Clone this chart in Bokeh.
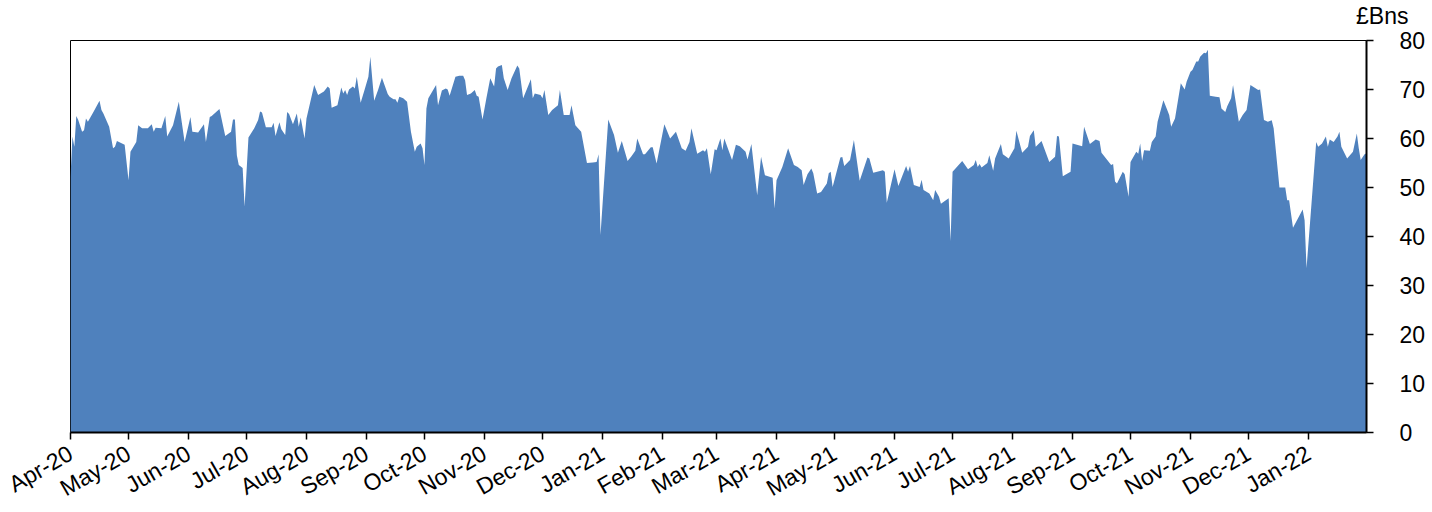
import math
import pandas as pd
from bokeh.plotting import figure
from bokeh.models import Range1d, FixedTicker, DatetimeTickFormatter, Title, ColumnDataSource
from bokeh.embed import file_html
from bokeh.resources import INLINE

# ---------------- data ----------------
dates_2020 = [
    "2020-04-01", "2020-04-02", "2020-04-03", "2020-04-04", "2020-04-05", "2020-04-07", "2020-04-08",
    "2020-04-09", "2020-04-10", "2020-04-13", "2020-04-16", "2020-04-17", "2020-04-18", "2020-04-21",
    "2020-04-23", "2020-04-24", "2020-04-25", "2020-04-29", "2020-05-01", "2020-05-02", "2020-05-05",
    "2020-05-06", "2020-05-08", "2020-05-11", "2020-05-13", "2020-05-14", "2020-05-15", "2020-05-18",
    "2020-05-20", "2020-05-21", "2020-05-24", "2020-05-27", "2020-05-30", "2020-06-02", "2020-06-03",
    "2020-06-06", "2020-06-09", "2020-06-10", "2020-06-12", "2020-06-13", "2020-06-17", "2020-06-20",
    "2020-06-23", "2020-06-24", "2020-06-25", "2020-06-26", "2020-06-27", "2020-06-29", "2020-06-30",
    "2020-07-02", "2020-07-05", "2020-07-07", "2020-07-08", "2020-07-09", "2020-07-11", "2020-07-14",
    "2020-07-15", "2020-07-16", "2020-07-18", "2020-07-19", "2020-07-21", "2020-07-22", "2020-07-23",
    "2020-07-25", "2020-07-27", "2020-07-28", "2020-07-29", "2020-07-31", "2020-08-01", "2020-08-05",
    "2020-08-07", "2020-08-10", "2020-08-12", "2020-08-13", "2020-08-14", "2020-08-17", "2020-08-19",
    "2020-08-20", "2020-08-21", "2020-08-22", "2020-08-23", "2020-08-25", "2020-08-26", "2020-08-27",
    "2020-08-29", "2020-08-31", "2020-09-02", "2020-09-03", "2020-09-05", "2020-09-07", "2020-09-09",
    "2020-09-12", "2020-09-13", "2020-09-15", "2020-09-16", "2020-09-17", "2020-09-18", "2020-09-20",
    "2020-09-22", "2020-09-24", "2020-09-26", "2020-09-27", "2020-09-29", "2020-09-30", "2020-10-01",
    "2020-10-02", "2020-10-03", "2020-10-07", "2020-10-08", "2020-10-10", "2020-10-12", "2020-10-13",
    "2020-10-14", "2020-10-17", "2020-10-19", "2020-10-21", "2020-10-22", "2020-10-23", "2020-10-25",
    "2020-10-27", "2020-10-28", "2020-10-29", "2020-10-31", "2020-11-02", "2020-11-04", "2020-11-06",
    "2020-11-07", "2020-11-08", "2020-11-10", "2020-11-11", "2020-11-13", "2020-11-15", "2020-11-18",
    "2020-11-19", "2020-11-21", "2020-11-25", "2020-11-26", "2020-11-27", "2020-11-30", "2020-12-01",
    "2020-12-02", "2020-12-04", "2020-12-06", "2020-12-09", "2020-12-10", "2020-12-12", "2020-12-15",
    "2020-12-16", "2020-12-18", "2020-12-21", "2020-12-24", "2020-12-27", "2020-12-29", "2020-12-30",
    "2020-12-31",
]
values_2020 = [
    52.2, 60.4, 58.3, 64.6, 63.8, 61.4, 61.7,
    64.1, 63.4, 65.5, 67.7, 65.8, 65.1, 62.4,
    58.0, 58.3, 59.5, 58.7, 51.5, 57.3, 59.3,
    62.7, 62.1, 62.1, 62.9, 61.4, 62.2, 62.1,
    64.6, 60.4, 62.7, 67.5, 59.3, 64.4, 61.4,
    61.2, 62.9, 59.3, 64.4, 64.6, 66.0, 60.5,
    61.4, 63.9, 63.9, 56.6, 54.6, 54.0, 46.1,
    60.2, 62.1, 63.8, 65.5, 65.3, 62.3, 62.3,
    63.2, 60.5, 63.3, 61.9, 60.7, 65.4, 65.0,
    62.9, 65.1, 62.4, 64.3, 60.0, 64.1, 70.9,
    68.9, 69.6, 70.6, 70.2, 66.3, 66.8, 70.4,
    69.2, 69.9, 68.9, 70.0, 70.6, 70.2, 72.6,
    67.3, 69.9, 72.6, 76.7, 67.7, 69.9, 72.4,
    69.1, 68.5, 68.0, 68.0, 67.3, 68.5, 68.2,
    67.5, 61.4, 57.3, 58.3, 59.0, 58.0, 54.6,
    66.1, 68.2, 70.9, 66.8, 69.8, 70.2, 70.0,
    68.7, 72.6, 72.8, 72.8, 71.9, 68.9, 69.2,
    69.9, 68.7, 68.5, 63.9, 68.2, 72.3, 70.6,
    74.3, 74.7, 75.0, 72.3, 69.9, 72.3, 74.9,
    74.3, 68.2, 72.1, 68.2, 69.2, 68.9, 68.2,
    69.9, 64.8, 65.8, 66.8, 69.9, 64.8, 64.8,
    66.8, 62.7, 61.4, 55.0, 55.1, 55.2, 56.8,
    40.3,
]

dates_2021 = [
    "2021-01-04", "2021-01-07", "2021-01-09", "2021-01-11", "2021-01-14", "2021-01-16", "2021-01-18",
    "2021-01-19", "2021-01-22", "2021-01-23", "2021-01-26", "2021-01-27", "2021-01-29", "2021-02-02",
    "2021-02-05", "2021-02-08", "2021-02-11", "2021-02-13", "2021-02-15", "2021-02-16", "2021-02-19",
    "2021-02-22", "2021-02-23", "2021-02-24", "2021-02-26", "2021-02-28", "2021-03-01", "2021-03-03",
    "2021-03-04", "2021-03-05", "2021-03-09", "2021-03-11", "2021-03-13", "2021-03-16", "2021-03-17",
    "2021-03-19", "2021-03-22", "2021-03-24", "2021-03-26", "2021-03-30", "2021-03-31", "2021-04-01",
    "2021-04-04", "2021-04-07", "2021-04-10", "2021-04-12", "2021-04-14", "2021-04-15", "2021-04-17",
    "2021-04-19", "2021-04-20", "2021-04-22", "2021-04-24", "2021-04-27", "2021-04-28", "2021-04-29",
    "2021-04-30", "2021-05-04", "2021-05-05", "2021-05-06", "2021-05-09", "2021-05-11", "2021-05-14",
    "2021-05-18", "2021-05-19", "2021-05-21", "2021-05-23", "2021-05-26", "2021-05-27", "2021-05-28",
    "2021-05-30", "2021-06-01", "2021-06-03", "2021-06-07", "2021-06-08", "2021-06-09", "2021-06-11",
    "2021-06-14", "2021-06-15", "2021-06-16", "2021-06-19", "2021-06-21", "2021-06-22", "2021-06-24",
    "2021-06-25", "2021-06-29", "2021-06-30", "2021-07-01", "2021-07-06", "2021-07-09", "2021-07-12",
    "2021-07-13", "2021-07-14", "2021-07-15", "2021-07-16", "2021-07-19", "2021-07-20", "2021-07-22",
    "2021-07-23", "2021-07-26", "2021-07-27", "2021-07-30", "2021-08-02", "2021-08-03", "2021-08-06",
    "2021-08-09", "2021-08-10", "2021-08-12", "2021-08-13", "2021-08-16", "2021-08-20", "2021-08-23",
    "2021-08-24", "2021-08-25", "2021-08-27", "2021-08-31", "2021-09-01", "2021-09-06", "2021-09-07",
    "2021-09-10", "2021-09-13", "2021-09-15", "2021-09-16", "2021-09-21", "2021-09-22", "2021-09-23",
    "2021-09-24", "2021-09-27", "2021-09-28", "2021-09-30", "2021-10-01", "2021-10-04", "2021-10-05",
    "2021-10-06", "2021-10-07", "2021-10-08", "2021-10-11", "2021-10-12", "2021-10-14", "2021-10-15",
    "2021-10-18", "2021-10-20", "2021-10-21", "2021-10-22", "2021-10-24", "2021-10-25", "2021-10-27",
    "2021-10-29", "2021-10-30", "2021-11-01", "2021-11-02", "2021-11-04", "2021-11-05", "2021-11-06",
    "2021-11-08", "2021-11-09", "2021-11-10", "2021-11-11", "2021-11-14", "2021-11-16", "2021-11-17",
    "2021-11-19", "2021-11-20", "2021-11-22", "2021-11-23", "2021-11-26", "2021-11-28", "2021-11-30",
    "2021-12-02", "2021-12-04", "2021-12-06", "2021-12-07", "2021-12-09", "2021-12-11", "2021-12-13",
    "2021-12-14", "2021-12-17", "2021-12-20", "2021-12-21", "2021-12-22", "2021-12-24", "2021-12-29",
    "2021-12-30", "2021-12-31",
]
values_2021 = [
    63.9, 60.7, 57.1, 59.5, 55.4, 56.4, 57.5,
    60.0, 56.8, 56.8, 58.2, 58.2, 54.9, 62.9,
    60.0, 61.4, 58.0, 57.5, 59.3, 62.1, 56.9,
    57.6, 57.3, 58.0, 52.7, 57.8, 57.6, 60.0,
    57.6, 60.0, 55.6, 58.7, 58.4, 57.3, 55.7,
    58.9, 48.4, 56.3, 52.5, 52.0, 45.7, 51.5,
    54.2, 58.0, 54.6, 54.2, 53.5, 50.5, 52.7,
    53.9, 52.9, 48.8, 49.1, 50.8, 52.9, 53.2,
    50.1, 56.1, 56.2, 54.4, 55.6, 59.7, 51.4,
    56.1, 55.9, 53.0, 53.2, 53.5, 53.2, 46.9,
    50.3, 53.7, 50.3, 54.4, 53.2, 54.4, 50.5,
    50.1, 51.6, 49.5, 48.8, 47.4, 49.5, 48.1,
    46.7, 47.8, 39.1, 53.2, 55.4, 53.7, 54.6,
    55.6, 54.2, 54.8, 54.1, 55.0, 56.6, 53.4,
    55.9, 58.9, 56.8, 55.9, 58.0, 61.6, 57.1,
    58.3, 60.5, 61.7, 58.3, 59.5, 55.2, 56.3,
    60.5, 60.4, 52.3, 53.2, 59.0, 58.4, 62.4,
    58.9, 59.8, 59.5, 57.1, 54.6, 54.8, 51.2,
    50.8, 53.2, 52.7, 48.1, 55.2, 57.3, 56.9,
    59.0, 55.4, 57.6, 57.5, 59.3, 60.4, 63.4,
    67.8, 65.8, 64.8, 62.4, 64.1, 66.5, 71.3,
    70.0, 71.6, 73.6, 74.0, 75.7, 75.7, 76.7,
    77.5, 77.4, 78.1, 68.7, 68.5, 68.4, 66.1,
    65.4, 66.6, 68.2, 70.9, 63.4, 64.8, 65.8,
    70.9, 70.4, 69.9, 70.0, 63.8, 63.4, 63.7,
    62.1, 50.0, 50.0, 47.4, 47.4, 41.8, 45.5,
    43.3, 33.5,
]

dates_2022 = [
    "2022-01-05", "2022-01-06", "2022-01-08", "2022-01-10", "2022-01-11", "2022-01-12", "2022-01-14",
    "2022-01-16", "2022-01-17", "2022-01-18", "2022-01-21", "2022-01-24", "2022-01-26", "2022-01-27",
    "2022-01-28", "2022-01-30", "2022-01-31",
]
values_2022 = [
    59.3, 58.3, 59.0, 60.4, 58.3, 59.8, 59.3,
    60.4, 61.4, 58.3, 55.9, 57.3, 61.0, 58.0,
    55.6, 56.8, 57.0,
]

month_ticks = [
    "2020-04-01", "2020-05-01", "2020-06-01", "2020-07-01", "2020-08-01", "2020-09-01",
    "2020-10-01", "2020-11-01", "2020-12-01", "2021-01-01", "2021-02-01", "2021-03-01",
    "2021-04-01", "2021-05-01", "2021-06-01", "2021-07-01", "2021-08-01", "2021-09-01",
    "2021-10-01", "2021-11-01", "2021-12-01", "2022-01-01",
]
y_ticks = [0, 10, 20, 30, 40, 50, 60, 70, 80]
x_start, x_end = "2020-04-01", "2022-01-31"
unit_label = "£Bns"

# ---------------- chart ----------------
dates = pd.to_datetime(dates_2020 + dates_2021 + dates_2022)
values = values_2020 + values_2021 + values_2022
src = ColumnDataSource(dict(date=dates, value=values))

FONT = "Liberation Sans"
FSIZE = "23px"

p = figure(
    frame_width=1296, frame_height=392,
    x_axis_type="datetime", y_axis_location="right",
    x_range=Range1d(pd.Timestamp(x_start), pd.Timestamp(x_end)),
    y_range=Range1d(0, 80),
    output_backend="svg", toolbar_location=None,
    min_border_left=70, min_border_top=40, min_border_right=56, min_border_bottom=70,
)
p.varea(x="date", y1=0, y2="value", source=src, fill_color="#4F81BD", fill_alpha=1.0)

p.grid.visible = False
p.background_fill_color = "white"
p.border_fill_color = "white"
p.outline_line_color = "black"
p.outline_line_width = 1
p.outline_line_alpha = 1.0

xa = p.xaxis[0]
xa.ticker = FixedTicker(ticks=[pd.Timestamp(t).value // 10**6 for t in month_ticks])
fmt = "%b-%y"
xa.formatter = DatetimeTickFormatter(
    microseconds=fmt, milliseconds=fmt, seconds=fmt, minsec=fmt, minutes=fmt,
    hourmin=fmt, hours=fmt, days=fmt, months=fmt, years=fmt,
)
xa.major_label_orientation = math.pi / 6
xa.axis_line_color = "black"
xa.axis_line_width = 2
xa.major_tick_line_color = "black"
xa.major_tick_line_width = 1.5
xa.major_tick_in = 0
xa.major_tick_out = 7
xa.minor_tick_line_color = None
xa.major_label_text_font = FONT
xa.major_label_text_font_size = FSIZE
xa.major_label_text_color = "black"
xa.major_label_standoff = 12

ya = p.yaxis[0]
ya.ticker = FixedTicker(ticks=y_ticks)
ya.axis_line_color = "black"
ya.axis_line_width = 2
ya.major_tick_line_color = "black"
ya.major_tick_line_width = 1.5
ya.major_tick_in = 0
ya.major_tick_out = 7
ya.minor_tick_line_color = None
ya.major_label_text_font = FONT
ya.major_label_text_font_size = FSIZE
ya.major_label_text_color = "black"
ya.major_label_standoff = 26

p.add_layout(Title(
    text=unit_label, align="right", offset=-42, vertical_align="top", standoff=4,
    padding=dict(left=0, right=0, top=0, bottom=8),
    text_font=FONT, text_font_size=FSIZE, text_font_style="normal", text_color="black",
), "above")

open("out.html", "w").write(file_html(p, INLINE))
